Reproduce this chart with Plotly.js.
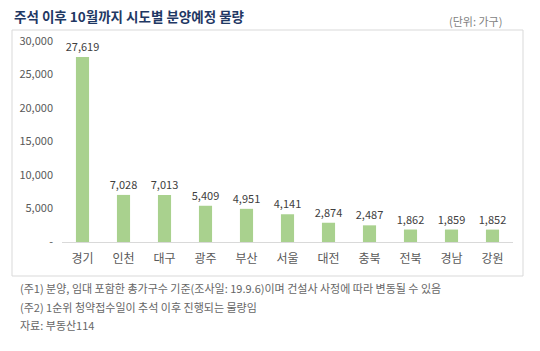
<!DOCTYPE html>
<html>
<head>
<meta charset="utf-8">
<script src="https://cdn.plot.ly/plotly-3.0.1.min.js"></script>
<style>html,body{margin:0;padding:0;background:#fff;}#chart{width:540px;height:351px;}</style>
</head>
<body>
<div id="chart"></div>
<script>
const categories = ["경기","인천","대구","광주","부산","서울","대전","충북","전북","경남","강원"];
const values = [27619, 7028, 7013, 5409, 4951, 4141, 2874, 2487, 1862, 1859, 1852];
const tickValues = [0, 5000, 10000, 15000, 20000, 25000, 30000];
const tickLabels = ["-", "5,000", "10,000", "15,000", "20,000", "25,000", "30,000"];
const titleText = "주석 이후 10월까지 시도별 분양예정 물량";
const unitText = "(단위: 가구)";
const notes = [
  "(주1) 분양, 임대 포함한 총가구수 기준(조사일: 19.9.6)이며 건설사 사정에 따라 변동될 수 있음",
  "(주2) 1순위 청약접수일이 추석 이후 진행되는 물량임",
  "자료: 부동산114"
];

const FONT = "'Noto Sans CJK KR', 'Noto Sans', sans-serif";
const fmt = v => v.toLocaleString("en-US");

const trace = {
  type: "bar",
  x: categories,
  y: values,
  marker: {color: "#a9d18e"},
  text: values.map(fmt),
  textposition: "outside",
  constraintext: "none",
  cliponaxis: false,
  textfont: {family: FONT, size: 11, color: "#404040"},
  hoverinfo: "none"
};

// plot area: x 62..513 px, y 41..242 px
const W = 451, H = 201, L = 62, B = 242;
const px = x => (x - L) / W;
const py = y => (B - y) / H;

const annotations = [
  {text: "<b>" + titleText + "</b>", x: px(12), y: py(16), xref: "paper", yref: "paper",
   xanchor: "left", yanchor: "middle", showarrow: false,
   font: {family: FONT, size: 13.5, color: "#1f3864"}},
  {text: unitText, x: px(504), y: py(21), xref: "paper", yref: "paper",
   xanchor: "right", yanchor: "middle", showarrow: false,
   font: {family: FONT, size: 11, color: "#7f7f7f"}}
];
const noteY = [288, 307, 325];
notes.forEach((t, i) => annotations.push({
  text: t, x: px(18), y: py(noteY[i]), xref: "paper", yref: "paper",
  xanchor: "left", yanchor: "middle", showarrow: false,
  font: {family: FONT, size: 11, color: "#666666"}
}));

const layout = {
  width: 540, height: 351,
  margin: {l: L, r: 540 - 513, t: 41, b: 351 - B, pad: 0},
  paper_bgcolor: "#ffffff", plot_bgcolor: "#ffffff",
  showlegend: false,
  bargap: 0.68,
  font: {family: FONT},
  xaxis: {
    showgrid: false, showline: true, linecolor: "#d9d9d9", linewidth: 1,
    ticks: "", ticklabelstandoff: 6, tickfont: {family: FONT, size: 12, color: "#595959"},
    fixedrange: true
  },
  yaxis: {
    range: [0, 30000], showgrid: false, zeroline: false, showline: false,
    tickvals: tickValues, ticktext: tickLabels, ticks: "", ticklabelstandoff: 8,
    tickfont: {family: FONT, size: 11, color: "#595959"}, fixedrange: true
  },
  shapes: [{
    type: "rect", xref: "paper", yref: "paper",
    x0: px(12), x1: px(523), y0: py(276), y1: py(30),
    line: {color: "#d9d9d9", width: 1}, fillcolor: "rgba(0,0,0,0)", layer: "below"
  }],
  annotations: annotations
};

Plotly.newPlot("chart", [trace], layout, {displayModeBar: false, staticPlot: true});
</script>
</body>
</html>
